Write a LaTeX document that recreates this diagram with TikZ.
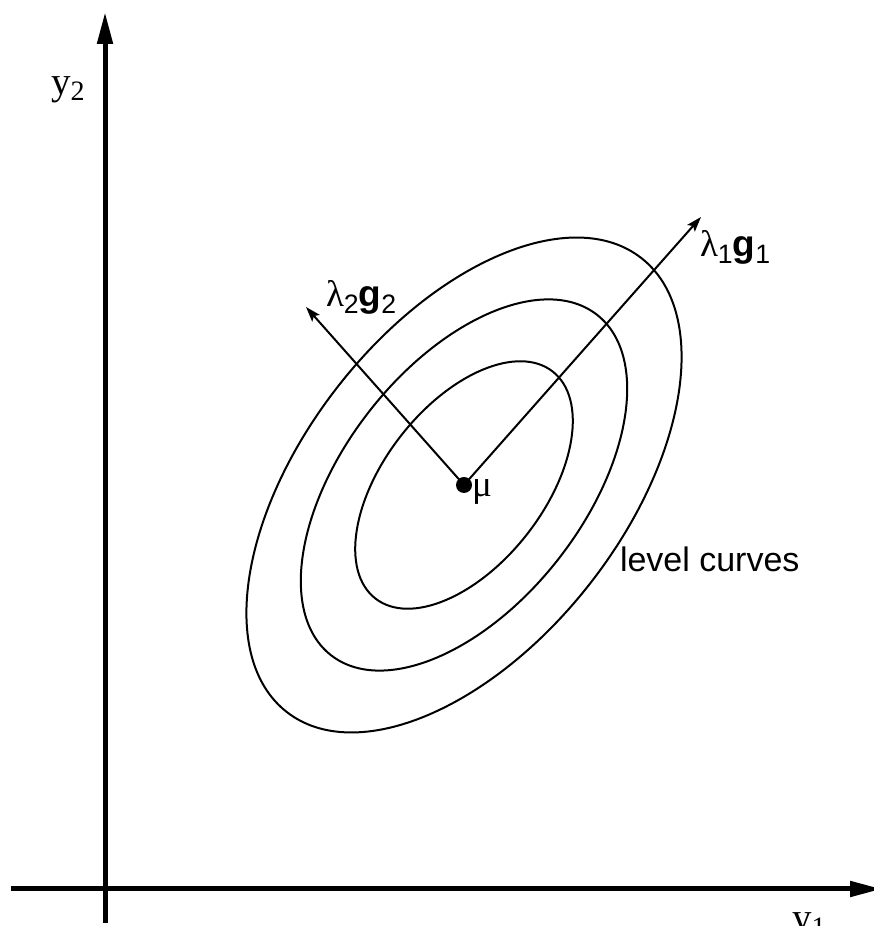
\documentclass[tikz,border=0pt]{standalone}
\usepackage{fontspec}
\setmainfont{Liberation Sans}
\newfontfamily\seriffont{Liberation Serif}
\usetikzlibrary{arrows.meta}
\newcommand{\mysub}[1]{\raisebox{-0.32ex}{\scalebox{0.72}{#1}}}
\tikzset{
  axis/.style={line width=5pt, -{Triangle[length=32pt,width=15pt]}},
  vec/.style={line width=2pt, -{Stealth[length=15pt,width=10pt,inset=3pt]}},
  level/.style={line width=2pt},
  lbl/.style={inner sep=0pt, outer sep=0pt},
}
\begin{document}
\begin{tikzpicture}[x=1pt,y=1pt]
\useasboundingbox (0,0) rectangle (873,926);
% axes
\coordinate (ox) at (11,37);
\coordinate (xe) at (882,37);
\coordinate (oy) at (105,3);
\coordinate (ye) at (105,914);
\draw[axis] (oy) -- (ye);
\draw[axis] (ox) -- (xe);
% centre
\coordinate (mu) at (464,441);
\coordinate (g1) at (701,709);
\coordinate (g2) at (306,619);
% level curves
\foreach \s in {1,0.75,0.5}{
  \draw[level, rotate around={52:(mu)}] (mu) ellipse [x radius=288pt*\s, y radius=160pt*\s];
}
\draw[vec] (mu) -- (g1);
\draw[vec] (mu) -- (g2);
\fill (mu) circle (8pt);
% labels
\node[lbl, anchor=base west] (ylab2) at (51,831) {\fontsize{39}{42}\selectfont\seriffont y\mysub{2}};
\node[lbl, anchor=north west] (ylab1) at (792,13) {\fontsize{39}{42}\selectfont\seriffont y\mysub{1}};
\node[lbl, anchor=base west] (l1) at (700,669) {\fontsize{37}{40}\selectfont{\seriffont λ}\mysub{1}\textbf{g}\mysub{1}};
\node[lbl, anchor=base west] (l2) at (326,619) {\fontsize{37}{40}\selectfont{\seriffont λ}\mysub{2}\textbf{g}\mysub{2}};
\node[lbl, anchor=base west] (mulab) at (472,429) {\fontsize{37}{40}\selectfont\seriffont μ};
\node[lbl, anchor=base west] (lc) at (620,354) {\fontsize{34}{38}\selectfont level curves};
\end{tikzpicture}
\end{document}
